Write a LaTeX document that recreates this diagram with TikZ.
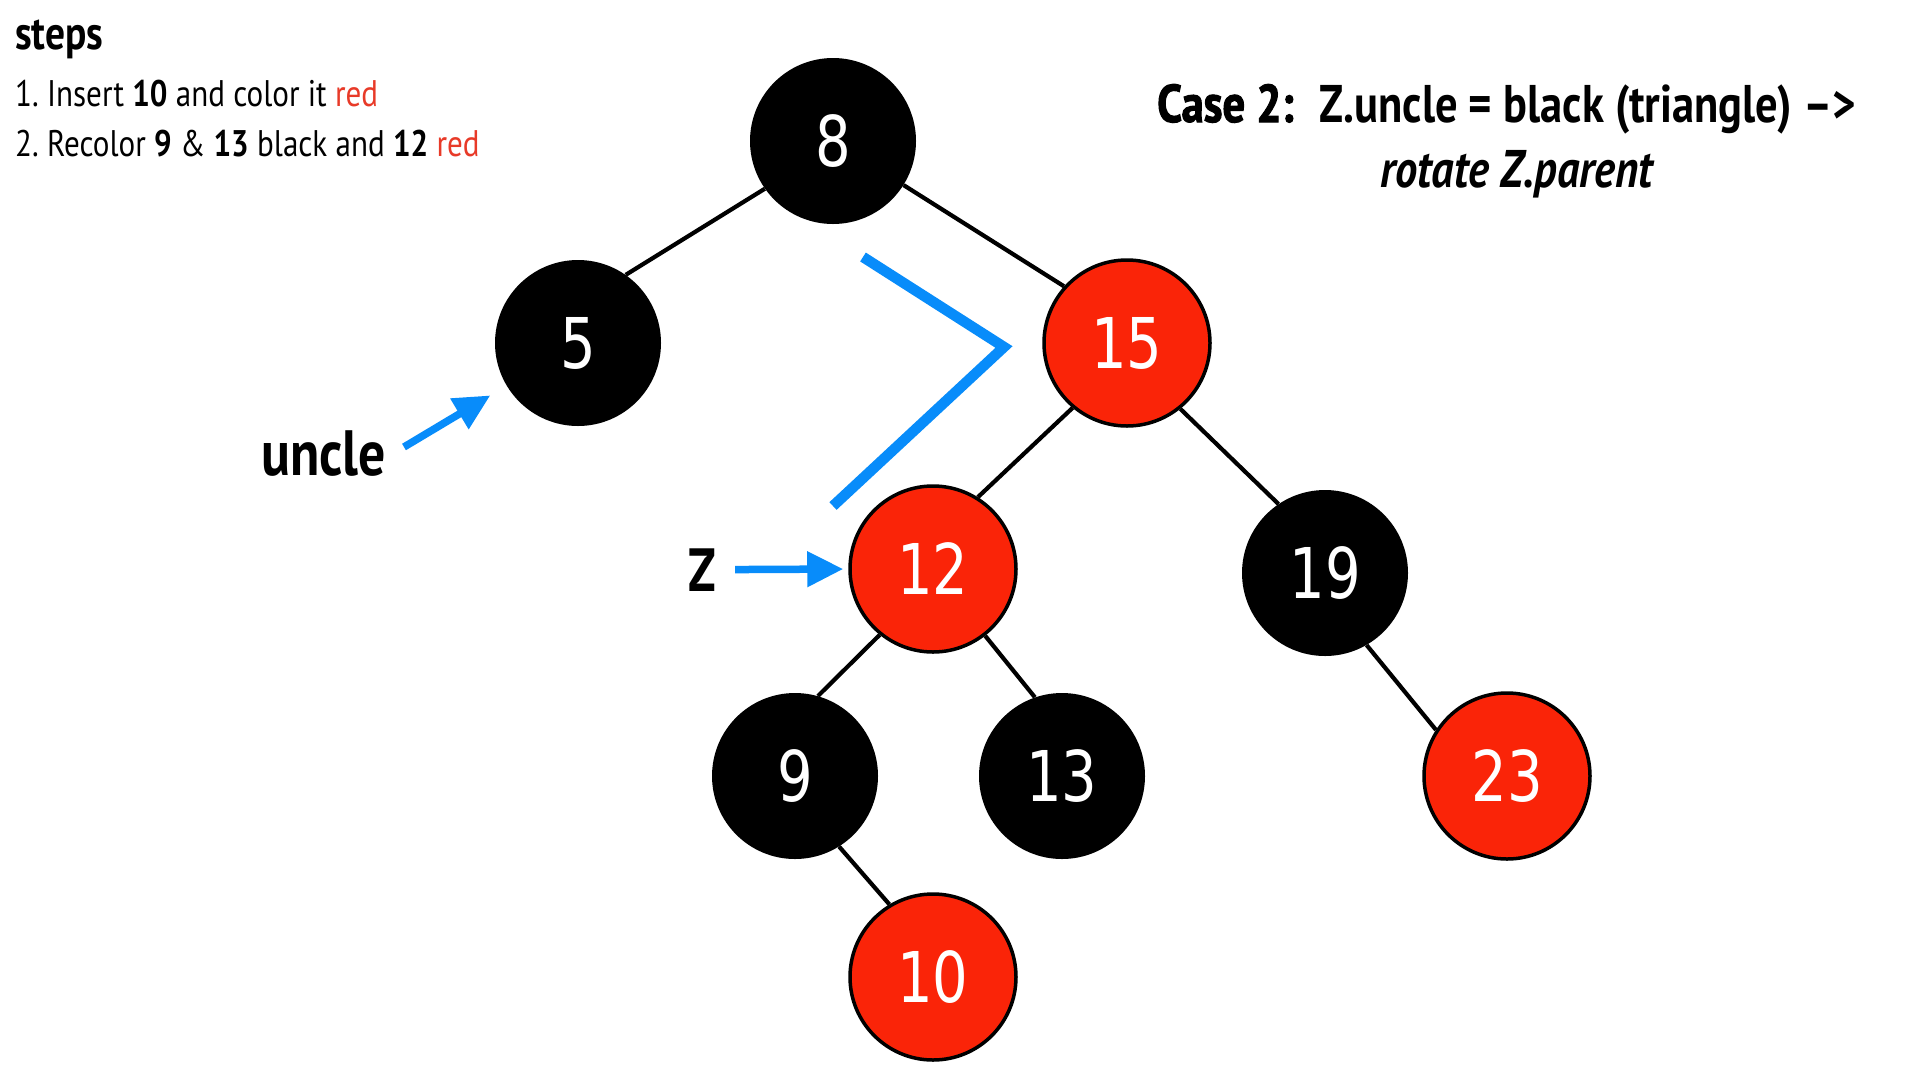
\documentclass[tikz,border=0pt]{standalone}
\usepackage{fontspec}
\setmainfont[FakeStretch=0.84]{PT Sans}
\newfontfamily\keyfont[FakeStretch=0.8]{DejaVu Sans}
\newfontfamily\heavyfont[FakeStretch=0.84,FakeBold=2]{PT Sans}
\usetikzlibrary{arrows.meta}

\definecolor{rbred}{RGB}{250,36,8}
\definecolor{txtred}{RGB}{232,58,40}
\definecolor{markblue}{RGB}{8,140,250}

\tikzset{
  rbnode/.style={circle, minimum size=166pt, inner sep=0pt, text=white,
    font=\keyfont\fontsize{70}{70}\selectfont},
  blacknode/.style={rbnode, fill=black},
  rednode/.style={rbnode, fill=rbred, draw=black, line width=3.5pt},
  edge/.style={line width=4.2pt},
  pointer/.style={draw=markblue, line width=7.5pt, -{Triangle[length=36pt,width=34pt]}},
  label/.style={anchor=base west, inner sep=0pt},
}

\begin{document}
\begin{tikzpicture}[x=1pt,y=-1pt]
  \fill[white] (0,0) rectangle (1920,1080);
  \useasboundingbox (0,0) rectangle (1920,1080);

  % steps
  \node[label, font=\bfseries\fontsize{47}{47}\selectfont] (steps) at (15,49) {steps};
  \node[label, font=\fontsize{37}{37}\selectfont] (step1) at (15,106)
    {1.\ Insert \textbf{10} and color it \textcolor{txtred}{red}};
  \node[label, font=\fontsize{37}{37}\selectfont] (step2) at (15,156)
    {2.\ Recolor \textbf{9} \& \textbf{13} black and \textbf{12} \textcolor{txtred}{red}};

  % case
  \node[label, font=\bfseries\fontsize{53}{53}\selectfont] (case) at (1157,122)
    {{\heavyfont\bfseries Case 2:}\hspace{26pt}Z.uncle = black (triangle) \textendash{}>};
  \node[label, font=\bfseries\itshape\fontsize{53}{53}\selectfont] (rotate) at (1380,187)
    {rotate Z.parent};

  % tree
  \node[blacknode] (n8)  at (833,141) {8};
  \node[blacknode] (n5)  at (578,343) {5};
  \node[rednode]   (n15) at (1127,343) {15};
  \node[rednode]   (n12) at (933,569) {12};
  \node[blacknode] (n19) at (1325,573) {19};
  \node[blacknode] (n9)  at (795,776) {9};
  \node[blacknode] (n13) at (1062,776) {13};
  \node[rednode]   (n23) at (1507,776) {23};
  \node[rednode]   (n10) at (933,977) {10};

  \draw[edge] (n5.55) -- (n8.215);
  \draw[edge] (n8.328) -- (n15.138);
  \draw[edge] (n15.230) -- (n12.58);
  \draw[edge] (n15.309) -- (n19.124);
  \draw[edge] (n12.231) -- (n9.74);
  \draw[edge] (n12.308) -- (n13.109);
  \draw[edge] (n9.302) -- (n10.121);
  \draw[edge] (n19.300) -- (n23.147);

  % triangle mark
  \draw[markblue, line width=10.5pt] (863,257) -- (1004,347) -- (833,506);

  % pointers
  \node[label, font=\bfseries\fontsize{64}{64}\selectfont] (uncle) at (261,475) {uncle};
  \node[label, font=\bfseries\fontsize{61}{61}\selectfont] (zlab) at (688,591) {Z};
  \coordinate (utail) at (404,447);
  \draw[pointer, shorten >=19pt] (utail) -- (n5);
  \draw[pointer, shorten <=19pt, shorten >=5pt] (zlab.east) -- (n12.west);
\end{tikzpicture}
\end{document}
